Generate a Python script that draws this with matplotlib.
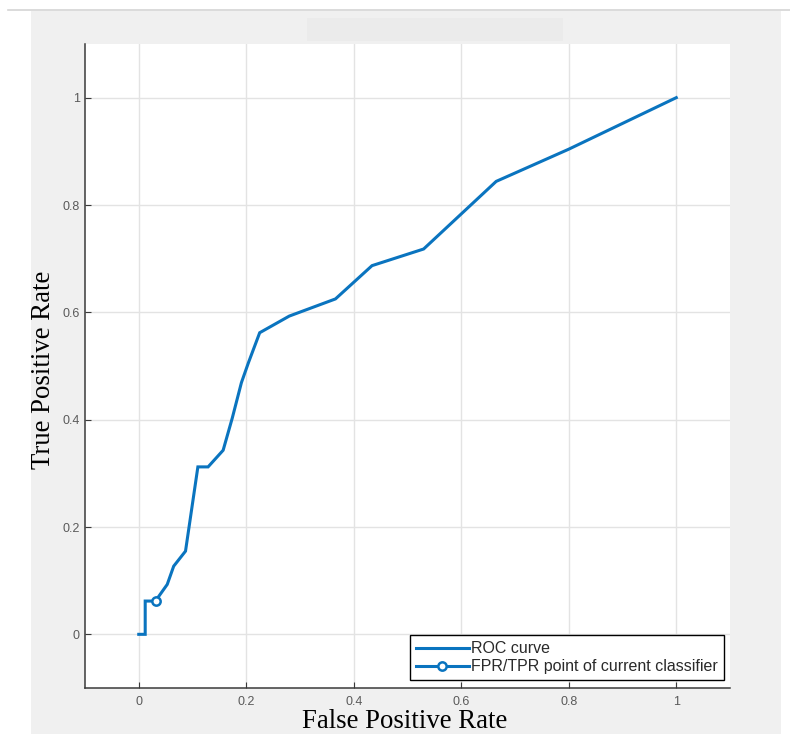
import matplotlib
matplotlib.use("Agg")
import matplotlib.pyplot as plt
from matplotlib.patches import Rectangle
from matplotlib.lines import Line2D

# ROC curve data
fpr = [0, 0.012, 0.012, 0.031, 0.053, 0.065, 0.087, 0.110, 0.129, 0.157, 0.174,
       0.191, 0.204, 0.225, 0.280, 0.366, 0.434, 0.530, 0.665, 0.800, 1.0]
tpr = [0, 0, 0.062, 0.062, 0.093, 0.127, 0.155, 0.312, 0.312, 0.343, 0.403,
       0.469, 0.506, 0.562, 0.593, 0.625, 0.687, 0.718, 0.844, 0.904, 1.0]
point_fpr = [0.032]
point_tpr = [0.062]
ticks = [0, 0.2, 0.4, 0.6, 0.8, 1]
tick_labels = ["0", "0.2", "0.4", "0.6", "0.8", "1"]
legend_labels = ["ROC curve", "FPR/TPR point of current classifier"]

W, H = 790, 734
fig = plt.figure(figsize=(W / 100, H / 100), dpi=100, facecolor="white")

# gray panel background
fig.patches.append(Rectangle((31 / W, 0), (781 - 31) / W, 1 - 11 / H,
                             transform=fig.transFigure, facecolor="#f0f0f0",
                             edgecolor="none", zorder=-2))
fig.patches.append(Rectangle((307 / W, 1 - 41 / H), (563 - 307) / W, 23 / H,
                             transform=fig.transFigure, facecolor="#ebebeb",
                             edgecolor="none", zorder=-1))
fig.lines.append(Line2D([8 / W, 1], [1 - 9.5 / H, 1 - 9.5 / H],
                        transform=fig.transFigure, color="#d4d4d4", lw=1.2,
                        zorder=-1))

ax = fig.add_axes([85 / W, 1 - 688 / H, (730 - 85) / W, (688 - 44) / H])
ax.set_facecolor("white")
ax.set_zorder(1)

blue = "#0A74BF"
ax.plot(fpr, tpr, color=blue, lw=2.2, solid_joinstyle="miter", zorder=3)
ax.plot(point_fpr, point_tpr, marker="o", ms=6, mfc="white", mec=blue,
        mew=1.8, color=blue, lw=2.2, zorder=4, linestyle="none")

ax.set_xlim(-0.1, 1.1)
ax.set_ylim(-0.1, 1.1)
ax.set_xticks(ticks)
ax.set_xticklabels(tick_labels)
ax.set_yticks(ticks)
ax.set_yticklabels(tick_labels)
ax.grid(True, color="#e3e3e3", lw=1)
ax.set_axisbelow(True)
for s in ["top", "right"]:
    ax.spines[s].set_visible(False)
for s in ["left", "bottom"]:
    ax.spines[s].set_color("#3a3a3a")
    ax.spines[s].set_linewidth(1.1)
ax.tick_params(direction="in", length=4, color="#3a3a3a", labelsize=9,
               labelcolor="#5a5a5a")
ax.tick_params(axis="x", pad=5.5)
ax.tick_params(axis="y", pad=3.8)
for lab in ax.get_xticklabels() + ax.get_yticklabels():
    lab.set_family(["Liberation Sans", "DejaVu Sans"])

handles = [Line2D([], [], color=blue, lw=2.2),
           Line2D([], [], color=blue, lw=2.2, marker="o", ms=6, mfc="white",
                  mec=blue, mew=1.8)]
leg = ax.legend(handles, legend_labels, loc="lower right",
                bbox_to_anchor=(0.990, 0.012), borderaxespad=0,
                fancybox=False, framealpha=1, edgecolor="black",
                prop={"family": "Liberation Sans", "size": 11.5},
                handlelength=3.3, handletextpad=0.12, labelspacing=0.18,
                borderpad=0.38)
leg.get_frame().set_linewidth(1.0)
for t in leg.get_texts():
    t.set_color("#2a2a2a")

fig.text(405 / W, 1 - 727.5 / H, "False Positive Rate", ha="center",
         va="baseline", family=["Liberation Serif", "DejaVu Serif"],
         fontsize=19.3, zorder=5)
fig.text(44 / W, 1 - 370 / H, "True Positive Rate", ha="center", va="center",
         rotation=90, family=["Liberation Serif", "DejaVu Serif"], fontsize=19.3,
         zorder=5)

fig.savefig("out.png", dpi=100, facecolor="white")
